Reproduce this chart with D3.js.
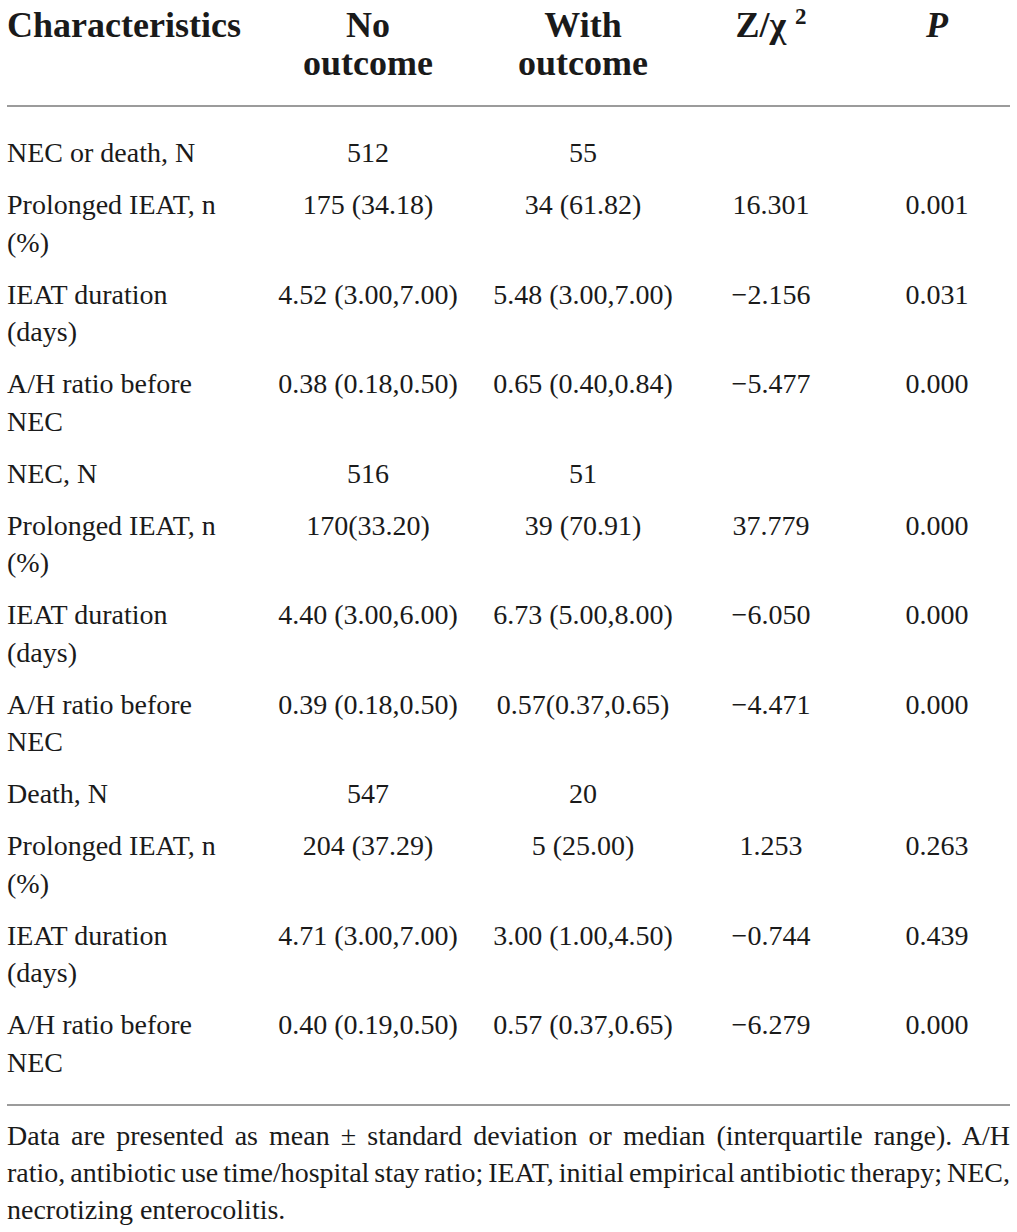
<!DOCTYPE html>
<html>
<head>
<meta charset="utf-8">
<script src="https://cdn.jsdelivr.net/npm/d3@7"></script>
<style>
  html, body { margin: 0; padding: 0; background: #fff; }
  svg { display: block; }
</style>
</head>
<body>
<svg id="table_canvas"></svg>
<script>
var HEADERS = [["Characteristics"], ["No", "outcome"], ["With", "outcome"], ["Z/χ", "2"], ["P"]];

var CHARACTERISTICS = ["NEC or death, N", "Prolonged IEAT, n (%)", "IEAT duration (days)", "A/H ratio before NEC",
    "NEC, N", "Prolonged IEAT, n (%)", "IEAT duration (days)", "A/H ratio before NEC",
    "Death, N", "Prolonged IEAT, n (%)", "IEAT duration (days)", "A/H ratio before NEC"];

var NO_OUTCOME = ["512", "175 (34.18)", "4.52 (3.00,7.00)", "0.38 (0.18,0.50)",
    "516", "170(33.20)", "4.40 (3.00,6.00)", "0.39 (0.18,0.50)",
    "547", "204 (37.29)", "4.71 (3.00,7.00)", "0.40 (0.19,0.50)"];

var WITH_OUTCOME = ["55", "34 (61.82)", "5.48 (3.00,7.00)", "0.65 (0.40,0.84)",
    "51", "39 (70.91)", "6.73 (5.00,8.00)", "0.57(0.37,0.65)",
    "20", "5 (25.00)", "3.00 (1.00,4.50)", "0.57 (0.37,0.65)"];

var STAT = ["", "16.301", "\u22122.156", "\u22125.477",
    "", "37.779", "\u22126.050", "\u22124.471",
    "", "1.253", "\u22120.744", "\u22126.279"];

var P_VALUES = ["", "0.001", "0.031", "0.000",
    "", "0.000", "0.000", "0.000",
    "", "0.263", "0.439", "0.000"];

var NOTE_LINES = ["Data are presented as mean \u00b1 standard deviation or median (interquartile range). A/H",
    "ratio, antibiotic use time/hospital stay ratio; IEAT, initial empirical antibiotic therapy; NEC,",
    "necrotizing enterocolitis."];

/* layout */
var canvas_w = 1017, canvas_h = 1232;
var left = 7, right = 1010;
var FONT = "'Liberation Serif', 'Times New Roman', serif";
var body_size = 28, head_size = 36;
var line_h = 37.5, row_pad = 14.5;
var first_base = 162;
var label_w = 222;
var TEXT_COLOR = "#1a1a1a", RULE_COLOR = "#9b9b9b";

var col_x = d3.scaleOrdinal()
    .domain(["no", "with", "stat", "p"])
    .range([368, 583, 771, 937]);

var svg = d3.select("#table_canvas").attr("width", canvas_w).attr("height", canvas_h);

function wrap_words(text, max_w) {
    var probe = svg.append("text").attr("font-family", FONT).attr("font-size", body_size);
    var words = text.split(" "), lines = [], cur = "";
    words.forEach(function(w) {
        var test = cur ? cur + " " + w : w;
        probe.text(test);
        if (cur && probe.node().getComputedTextLength() > max_w) {
            lines.push(cur);
            cur = w;
        } else {
            cur = test;
        }
    });
    lines.push(cur);
    probe.remove();
    return lines;
}

// header
var head = svg.append("g")
    .attr("font-family", FONT).attr("font-size", head_size)
    .attr("font-weight", "bold").attr("fill", TEXT_COLOR);

head.append("text").attr("x", left).attr("y", 37).text(HEADERS[0][0]);

[["no", HEADERS[1]], ["with", HEADERS[2]]].forEach(function(h) {
    head.append("text")
        .attr("text-anchor", "middle")
        .selectAll("tspan").data(h[1]).enter().append("tspan")
        .attr("x", col_x(h[0]))
        .attr("y", function(d, i) { return 37 + i * 38; })
        .text(function(d) { return d; });
});

var zt = head.append("text").attr("x", col_x("stat")).attr("y", 37).attr("text-anchor", "middle");
zt.append("tspan").text(HEADERS[3][0] + " ");
zt.append("tspan").attr("font-size", 23).attr("dy", -13).text(HEADERS[3][1]);

head.append("text").attr("x", col_x("p")).attr("y", 37)
    .attr("text-anchor", "middle").attr("font-style", "italic")
    .text(HEADERS[4][0]);

// rules
svg.append("line").attr("x1", left).attr("x2", right).attr("y1", 106).attr("y2", 106)
    .attr("stroke", RULE_COLOR).attr("stroke-width", 2);
svg.append("line").attr("x1", left).attr("x2", right).attr("y1", 1105).attr("y2", 1105)
    .attr("stroke", RULE_COLOR).attr("stroke-width", 2);

// body rows
var rows = CHARACTERISTICS.map(function(c, i) {
    return {label: wrap_words(c, label_w), no: NO_OUTCOME[i], with: WITH_OUTCOME[i],
        stat: STAT[i], p: P_VALUES[i]};
});
var y = first_base;
rows.forEach(function(r) {
    r.y = y;
    y += r.label.length * line_h + row_pad;
});

var body = svg.append("g")
    .attr("font-family", FONT).attr("font-size", body_size).attr("fill", TEXT_COLOR);

var row_g = body.selectAll(".row").data(rows).enter().append("g").attr("class", "row");

row_g.append("text")
    .selectAll("tspan").data(function(d) { return d.label.map(function(l) { return {t: l, y: d.y}; }); })
    .enter().append("tspan")
    .attr("x", left)
    .attr("y", function(d, i) { return d.y + i * line_h; })
    .text(function(d) { return d.t; });

["no", "with", "stat", "p"].forEach(function(k) {
    row_g.append("text")
        .attr("x", col_x(k))
        .attr("y", function(d) { return d.y; })
        .attr("text-anchor", "middle")
        .text(function(d) { return d[k]; });
});

// note, justified
var note = svg.append("g")
    .attr("font-family", FONT).attr("font-size", body_size).attr("fill", TEXT_COLOR);
NOTE_LINES.forEach(function(line, i) {
    var t = note.append("text").attr("x", left).attr("y", 1145 + i * 37).text(line);
    if (i < NOTE_LINES.length - 1) {
        var gaps = line.split(" ").length - 1;
        var extra = (right - left) - t.node().getComputedTextLength();
        t.style("word-spacing", (extra / gaps) + "px");
    }
});
</script>
</body>
</html>
